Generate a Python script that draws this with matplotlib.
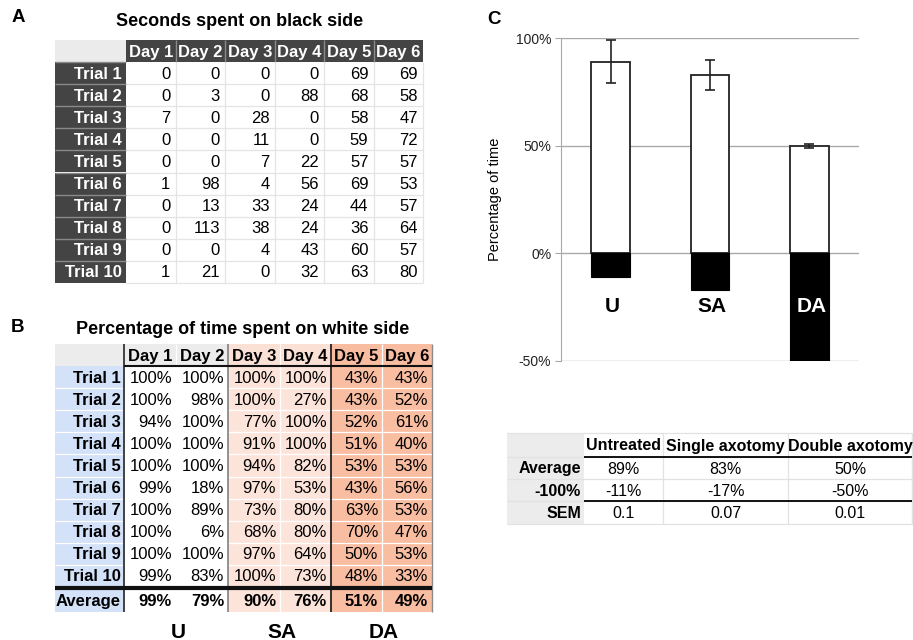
import matplotlib
matplotlib.use("Agg")
import matplotlib.pyplot as plt
from matplotlib.patches import Rectangle

plt.rcParams['font.family'] = ['Liberation Sans', 'DejaVu Sans']

# ---------------- data ----------------
days = ["Day 1", "Day 2", "Day 3", "Day 4", "Day 5", "Day 6"]
trials = ["Trial %d" % i for i in range(1, 11)]

# Seconds spent on black side (per day, trials 1..10)
black_day1 = [0, 0, 7, 0, 0, 1, 0, 0, 0, 1]
black_day2 = [0, 3, 0, 0, 0, 98, 13, 113, 0, 21]
black_day3 = [0, 0, 28, 11, 7, 4, 33, 38, 4, 0]
black_day4 = [0, 88, 0, 0, 22, 56, 24, 24, 43, 32]
black_day5 = [69, 68, 58, 59, 57, 69, 44, 36, 60, 63]
black_day6 = [69, 58, 47, 72, 57, 53, 57, 64, 57, 80]

# Percentage of time spent on white side (per day, trials 1..10)
white_day1 = [100, 100, 94, 100, 100, 99, 100, 100, 100, 99]
white_day2 = [100, 98, 100, 100, 100, 18, 89, 6, 100, 83]
white_day3 = [100, 100, 77, 91, 94, 97, 73, 68, 97, 100]
white_day4 = [100, 27, 100, 100, 82, 53, 80, 80, 64, 73]
white_day5 = [43, 43, 52, 51, 53, 43, 63, 70, 50, 48]
white_day6 = [43, 52, 61, 40, 53, 56, 53, 47, 53, 33]
white_average = [99, 79, 90, 76, 51, 49]

groups = ["U", "SA", "DA"]
group_names = ["Untreated", "Single axotomy", "Double axotomy"]
group_average = [89, 83, 50]
group_minus100 = [-11, -17, -50]
group_sem = [0.1, 0.07, 0.01]

black_cols = [black_day1, black_day2, black_day3, black_day4, black_day5, black_day6]
white_cols = [white_day1, white_day2, white_day3, white_day4, white_day5, white_day6]

# ---------------- figure ----------------
W, H = 913, 640
fig = plt.figure(figsize=(W / 100, H / 100), dpi=100)
bg = fig.add_axes([0, 0, 1, 1])
bg.set_xlim(0, W)
bg.set_ylim(H, 0)
bg.axis("off")

FS = 12


def rect(x0, y0, x1, y1, fc, ec="none", lw=0, z=1):
    bg.add_patch(Rectangle((x0, y0), x1 - x0, y1 - y0, facecolor=fc,
                           edgecolor=ec, linewidth=lw, zorder=z))


def hline(x0, x1, y, color, lw, z=3):
    bg.plot([x0, x1], [y, y], color=color, lw=lw, zorder=z, solid_capstyle="butt")


def vline(x, y0, y1, color, lw, z=3):
    bg.plot([x, x], [y0, y1], color=color, lw=lw, zorder=z, solid_capstyle="butt")


def txt(x, y, s, ha="center", color="black", weight="normal", size=FS, z=5):
    bg.text(x, y, s, ha=ha, va="center", color=color, fontweight=weight,
            fontsize=size, zorder=z)


# ---------------- Panel A ----------------
txt(18, 18, "A", weight="bold", size=13.5)
txt(240, 22, "Seconds spent on black side", weight="bold", size=13)
a_cols = [55, 126, 175.5, 225, 274.5, 324, 373.5, 423]
a_head = (40, 62)
a_rowh = 22.1
dark = "#444444"
rect(a_cols[0], a_head[0], a_cols[1], a_head[1], "#ebebeb")
rect(a_cols[1], a_head[0], a_cols[-1], a_head[1], dark)
for j, d in enumerate(days):
    txt((a_cols[j + 1] + a_cols[j + 2]) / 2, sum(a_head) / 2 + 1, d,
        color="white", weight="bold")
    if j > 0:
        vline(a_cols[j + 1], a_head[0], a_head[1], "#8a8a8a", 1.0)
for i, t in enumerate(trials):
    y0 = a_head[1] + i * a_rowh
    y1 = y0 + a_rowh
    rect(a_cols[0], y0, a_cols[1], y1, dark)
    hline(a_cols[0], a_cols[1], y0, "#8a8a8a", 1.0)
    txt(a_cols[1] - 4, (y0 + y1) / 2 + 1, t, ha="right", color="white", weight="bold")
    hline(a_cols[1], a_cols[-1], y1, "#e4e4e4", 0.9)
    for j in range(6):
        txt(a_cols[j + 2] - 5, (y0 + y1) / 2 + 1, str(black_cols[j][i]), ha="right")
for j in range(1, 7):
    vline(a_cols[j + 1], a_head[1], a_head[1] + 10 * a_rowh, "#e4e4e4", 0.9)

# ---------------- Panel B ----------------
txt(18, 327, "B", weight="bold", size=13.5)
txt(243, 330, "Percentage of time spent on white side", weight="bold", size=13)
b_cols = [55, 124, 176, 228, 280, 331, 382, 432]
b_head = (344, 366)
b_rowh = 22.1
b_avg = (589, 612)
grey_h = "#ececec"
blue = "#d3e2f9"
pink_h, pink_c = "#fbe0d6", "#fde4db"
salm_h, salm_c = "#f8bca0", "#f9bda1"
head_fc = [grey_h, grey_h, pink_h, pink_h, salm_h, salm_h]
cell_fc = ["white", "white", pink_c, pink_c, salm_c, salm_c]
bottom = b_head[1] + 10 * b_rowh
rect(b_cols[0], b_head[0], b_cols[1], b_head[1], grey_h)
rect(b_cols[0], b_head[1], b_cols[1], b_avg[1], blue)
for j, d in enumerate(days):
    x0, x1 = b_cols[j + 1], b_cols[j + 2]
    rect(x0, b_head[0], x1, b_head[1], head_fc[j])
    rect(x0, b_head[1], x1, b_avg[1], cell_fc[j])
    txt((x0 + x1) / 2, sum(b_head) / 2 + 1, d, weight="bold")
    for i in range(10):
        y0 = b_head[1] + i * b_rowh
        txt(x1 - 4, y0 + b_rowh / 2 + 1, "%d%%" % white_cols[j][i], ha="right")
    txt(x1 - 4, sum(b_avg) / 2 + 1, "%d%%" % white_average[j], ha="right", weight="bold")
    if j in (1, 3, 5):
        vline(x0, b_head[0], b_avg[1], "white", 0.9, z=2)
for i, t in enumerate(trials):
    y0 = b_head[1] + i * b_rowh
    txt(b_cols[1] - 3, y0 + b_rowh / 2 + 1, t, ha="right", weight="bold")
    if i > 0:
        hline(b_cols[0], b_cols[-1], y0, "white", 0.9, z=2)
txt(b_cols[1] - 3, sum(b_avg) / 2 + 1, "Average", ha="right", weight="bold")
# strong lines
vline(b_cols[1], b_head[0], b_avg[1], "#333333", 1.3)
vline(b_cols[3], b_head[0], b_avg[1], "#8a8a8a", 1.3)
vline(b_cols[5], b_head[0], b_avg[1], "#222222", 1.3)
vline(b_cols[-1], b_head[0], b_avg[1], "#8a8a8a", 1.0)
hline(b_cols[1], b_cols[-1], b_head[1], "#111111", 1.5)
hline(b_cols[0], b_cols[-1], bottom + 0.5, "#111111", 3.0)
# group labels below
for g, x in zip(groups, [(b_cols[1] + b_cols[3]) / 2, (b_cols[3] + b_cols[5]) / 2,
                         (b_cols[5] + b_cols[7]) / 2]):
    txt(x + 2, 632, g, weight="bold", size=15)

# ---------------- Panel C chart ----------------
txt(494, 19, "C", weight="bold", size=13.5)
ax_l, ax_r, ax_t, ax_b = 561, 859, 38, 361
ax = fig.add_axes([ax_l / W, 1 - ax_b / H, (ax_r - ax_l) / W, (ax_b - ax_t) / H])
xpos = list(range(len(groups)))
pos_vals = [v / 100 for v in group_average]
neg_vals = [v / 100 for v in group_minus100]
ax.bar(xpos, pos_vals, width=0.39, color="white", edgecolor="#222222", linewidth=1.3, zorder=3)
ax.bar(xpos, neg_vals, width=0.39, color="black", edgecolor="black", linewidth=0.8, zorder=3)
ax.errorbar(xpos, pos_vals, yerr=group_sem, fmt="none", ecolor="#222222",
            elinewidth=1.2, capsize=3.5, capthick=1.2, zorder=4)
ax.set_xlim(-0.5, 2.5)
ax.set_ylim(-0.5, 1.0)
ax.set_yticks([-0.5, 0, 0.5, 1.0])
ax.set_yticklabels(["-50%", "0%", "50%", "100%"], fontsize=10, color="#222222")
ax.yaxis.grid(True, color="#a9a9a9", linewidth=1.0, zorder=0)
ax.set_axisbelow(True)
ax.set_xticks([])
for s in ["top", "right", "bottom"]:
    ax.spines[s].set_visible(False)
ax.spines["left"].set_color("#a9a9a9")
ax.tick_params(axis="y", length=4, color="#a9a9a9", pad=3)
ax.set_ylabel("Percentage of time", fontsize=10.5, labelpad=10)
for x, g in zip(xpos, groups):
    ax.text(x + 0.02, -0.245, g, ha="center", va="center", fontsize=15,
            fontweight="bold", color="white" if g == "DA" else "black", zorder=6)

# ---------------- Panel C table ----------------
c_cols = [507, 584, 663, 788, 912]
c_rows = [433, 457, 479, 501, 524]
rect(c_cols[0], c_rows[0], c_cols[1], c_rows[-1], "#ececec")
for k in range(1, 4):
    hline(c_cols[0], c_cols[-1], c_rows[k], "#e2e2e2", 0.9, z=2)
for k in range(1, 4):
    vline(c_cols[k + 1], c_rows[0], c_rows[-1], "#e2e2e2", 0.9, z=2)
vline(c_cols[-1], c_rows[0], c_rows[-1], "#e2e2e2", 0.9, z=2)
hline(c_cols[0], c_cols[-1], c_rows[0], "#e2e2e2", 0.9, z=2)
hline(c_cols[0], c_cols[-1], c_rows[-1], "#e2e2e2", 0.9, z=2)
hline(c_cols[1], c_cols[-1], c_rows[1], "#111111", 1.4)
hline(c_cols[1], c_cols[-1], c_rows[3], "#111111", 1.4)
row_labels = ["Average", "-100%", "SEM"]
row_vals = [["%d%%" % v for v in group_average],
            ["%d%%" % v for v in group_minus100],
            ["%g" % v for v in group_sem]]
for j, nm in enumerate(group_names):
    txt((c_cols[j + 1] + c_cols[j + 2]) / 2, (c_rows[0] + c_rows[1]) / 2 + 1, nm,
        weight="bold", size=11.5)
for i, lab in enumerate(row_labels):
    yc = (c_rows[i + 1] + c_rows[i + 2]) / 2 + 1
    txt(c_cols[1] - 3, yc, lab, ha="right", weight="bold", size=11.5)
    for j in range(3):
        txt((c_cols[j + 1] + c_cols[j + 2]) / 2, yc, row_vals[i][j], size=11.5)

fig.savefig("out.png", dpi=100)
